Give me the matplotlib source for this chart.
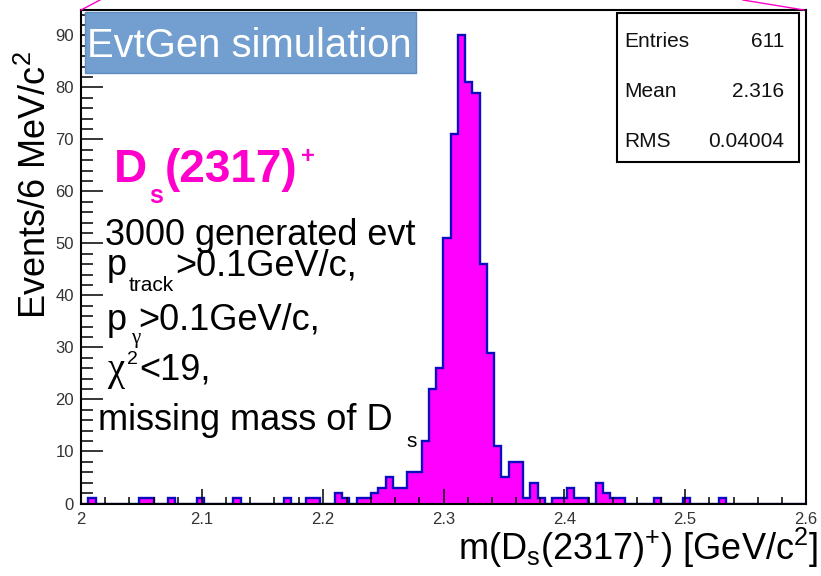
import matplotlib
matplotlib.use('Agg')
import matplotlib.pyplot as plt
import numpy as np
from matplotlib.patches import Rectangle
from matplotlib.lines import Line2D

plt.rcParams['font.family'] = ['Liberation Sans', 'DejaVu Sans']
plt.rcParams['mathtext.fontset'] = 'custom'
plt.rcParams['mathtext.rm'] = 'Liberation Sans'
plt.rcParams['mathtext.it'] = 'Liberation Sans:italic'
plt.rcParams['mathtext.bf'] = 'Liberation Sans:bold'

# Datos: 100 bins de 6 MeV entre 2.0 y 2.6 GeV
x_min, x_max, n_bins = 2.0, 2.6, 100
counts = [
    0, 1, 0, 0, 0, 0, 0, 0, 1, 1,
    0, 0, 1, 0, 0, 0, 1, 0, 0, 0,
    0, 1, 0, 0, 0, 0, 0, 0, 1, 0,
    0, 1, 1, 0, 0, 2, 1, 0, 1, 1,
    2, 3, 5, 3, 3, 6, 6, 12, 22, 26,
    51, 71, 90, 81, 79, 46, 29, 11, 5, 8,
    8, 1, 4, 1, 0, 1, 1, 3, 1, 1,
    0, 4, 2, 1, 1, 0, 0, 0, 0, 1,
    0, 0, 0, 1, 0, 0, 0, 0, 1, 0,
    0, 0, 0, 0, 0, 0, 0, 0, 0, 0,
]
stats_names = ['Entries', 'Mean', 'RMS']
stats_values = ['611', '2.316', '0.04004']
cut_lines = ['3000 generated evt', '>0.1GeV/c,', '>0.1GeV/c,', '<19,', 'missing mass of D']

W, H = 821, 576
def P(x, y):
    return (x / W, 1 - y / H)

fig = plt.figure(figsize=(W / 100, H / 100), dpi=100)
ax = fig.add_axes([81 / W, 72.5 / H, 725 / W, 493.5 / H])

edges = np.linspace(x_min, x_max, n_bins + 1)
ax.stairs(counts, edges, fill=True, facecolor='#ff00ff', edgecolor='none', zorder=1)
ax.stairs(counts, edges, fill=False, edgecolor='#0c0cc0', linewidth=1.7, zorder=1.5)

ax.set_xlim(x_min, x_max)
ax.set_ylim(0, 94.9)
ax.set_xticks(np.arange(2.0, 2.61, 0.1))
ax.set_xticklabels(['2', '2.1', '2.2', '2.3', '2.4', '2.5', '2.6'])
ax.set_xticks(np.arange(2.0, 2.6, 0.02), minor=True)
ax.set_yticks(np.arange(0, 91, 10))
ax.set_yticks(np.arange(0, 95, 2), minor=True)
ax.tick_params(axis='both', which='both', direction='in', top=False, right=False,
               labelsize=12, labelcolor='#333333', width=1.1)
ax.tick_params(axis='x', which='major', length=11, pad=6)
ax.tick_params(axis='x', which='minor', length=5)
ax.tick_params(axis='y', which='major', length=16, pad=5)
ax.tick_params(axis='y', which='minor', length=8.5)
for s in ax.spines.values():
    s.set_linewidth(1.5)

# etiquetas de ejes
fig.text(*P(36, 185), r'Events/6 MeV/c$^{2}$', rotation=90, ha='center', va='center', fontsize=26)
fig.text(*P(818, 560), r'm(D$_{\mathrm{s}}$(2317)$^{+}$) [GeV/c$^{2}$]', ha='right', va='baseline', fontsize=26)

# caja EvtGen
fig.patches.append(Rectangle(P(85, 73), 331 / W, 61 / H, transform=fig.transFigure,
                             facecolor='#729fcf', edgecolor='#5f8bc4', linewidth=1, zorder=5))
fig.text(*P(87, 57), 'EvtGen simulation', color='white', fontsize=28.8, va='baseline', zorder=6)

# titulo D_s(2317)+
mag = '#ff00cc'
fig.text(*P(114, 182), 'D', color=mag, fontsize=33, fontweight='bold', va='baseline')
fig.text(*P(149, 203), 's', color=mag, fontsize=18, fontweight='bold', va='baseline')
fig.text(*P(165, 182), '(2317)', color=mag, fontsize=33, fontweight='bold', va='baseline')
fig.text(*P(301, 163), '+', color=mag, fontsize=17, fontweight='bold', va='baseline')

# cortes
fs = 26
fig.text(*P(105, 245), cut_lines[0], fontsize=fs, va='baseline')
fig.text(*P(107, 275), 'p', fontsize=fs, va='baseline')
fig.text(*P(129, 291), 'track', fontsize=15, va='baseline')
fig.text(*P(175, 275), cut_lines[1], fontsize=fs, va='baseline')
fig.text(*P(107, 330), 'p', fontsize=fs, va='baseline')
fig.text(*P(131, 343), 'γ', fontsize=15, family='Liberation Serif', va='baseline')
fig.text(*P(138, 330), cut_lines[2], fontsize=fs, va='baseline')
fig.text(*P(107, 380), 'χ', fontsize=28, family='Liberation Serif', va='baseline')
fig.text(*P(127, 364), '2', fontsize=14, va='baseline')
fig.text(*P(139, 380), cut_lines[3], fontsize=fs, va='baseline')
fig.text(*P(98, 430), cut_lines[4], fontsize=fs, va='baseline')
fig.text(*P(406, 447), 's', fontsize=15, va='baseline')

# caja de estadisticas
fig.patches.append(Rectangle(P(617, 162), 182 / W, 149 / H, transform=fig.transFigure,
                             facecolor='white', edgecolor='black', linewidth=1.5, zorder=5))
for i, (n, v) in enumerate(zip(stats_names, stats_values)):
    yb = 47 + 50 * i
    fig.text(*P(624, yb), n, fontsize=15, va='baseline', zorder=6, color='#111111')
    fig.text(*P(784, yb), v, fontsize=15, va='baseline', ha='right', zorder=6, color='#111111')

# lineas rosas de la diapositiva
for (xa, ya, xb, yb) in [(81, 10, 100, 0), (743, 0, 804, 10)]:
    fig.lines.append(Line2D([xa / W, xb / W], [1 - ya / H, 1 - yb / H],
                            transform=fig.transFigure, color=mag, linewidth=1))

fig.savefig('out.png', dpi=100)
